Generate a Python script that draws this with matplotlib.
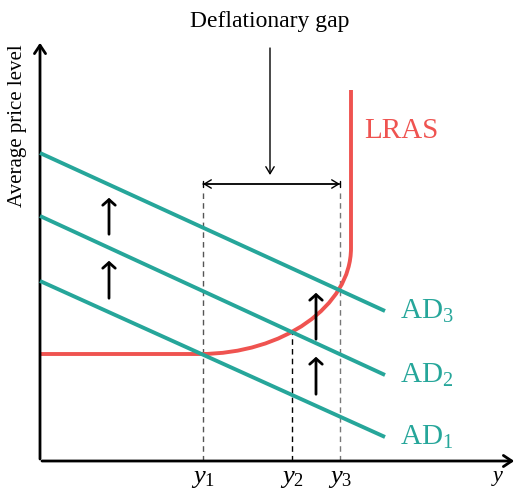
import matplotlib
matplotlib.use("Agg")
import matplotlib.pyplot as plt
from matplotlib.path import Path
from matplotlib.patches import PathPatch

plt.rcParams['font.family'] = ['Liberation Serif', 'DejaVu Serif']
plt.rcParams['mathtext.fontset'] = 'custom'
plt.rcParams['mathtext.rm'] = 'Liberation Serif'
plt.rcParams['mathtext.it'] = 'Liberation Serif:italic'

TEAL = '#26a69a'
RED = '#ef5350'

# ---- data (abstract chart units, origin at the axes corner) ----
ad_x = [0, 345]
ad1_y = [180, 24]
ad2_y = [245, 86]
ad3_y = [308, 150]
ad_labels = ['AD$_1$', 'AD$_2$', 'AD$_3$']

# LRAS: flat segment, rounded corner (cubic Bezier), vertical segment
lras_x = [0, 160, 243, 311, 311, 311]
lras_y = [107, 107, 107, 155, 213, 371]

# output levels
y_pos = [163, 252, 300]
y_labels = ['$y_1$', '$y_2$', '$y_3$']
dash_top = [272, 129, 272]
dash_col = ['#555555', 'black', '#777777']

gap_level = 277
# shift arrows (x, from, to)
arrows = [(69, 224, 266), (69, 160, 203), (276, 119, 171), (276, 64, 107)]

fig = plt.figure(figsize=(5.18, 4.94), dpi=100)
ax = fig.add_axes([0, 0, 1, 1])
ax.set_xlim(-40, 478)
ax.set_ylim(-33, 461)
ax.axis('off')

# axes with arrows
ax.annotate('', xy=(0, 421), xytext=(0, -0.8), annotation_clip=False,
            arrowprops=dict(arrowstyle='->,head_length=0.6,head_width=0.4', lw=2.0, color='black'))
ax.annotate('', xy=(477, 0), xytext=(-0.8, 0), annotation_clip=False,
            arrowprops=dict(arrowstyle='->,head_length=0.6,head_width=0.4', lw=2.0, color='black'))

# dashed lines
for xp, top, c in zip(y_pos, dash_top, dash_col):
    ax.plot([xp, xp], [0, top], ls=(0, (4, 3)), lw=1.0, color=c, zorder=1)

# AD lines
for ys, lab in zip([ad1_y, ad2_y, ad3_y], ad_labels):
    ax.plot(ad_x, ys, color=TEAL, lw=2.8, solid_capstyle='butt', zorder=3)
    ax.text(ad_x[1] + 15, ys[1], lab, color=TEAL, fontsize=21, va='center', ha='left')

# LRAS curve
codes = [Path.MOVETO, Path.LINETO, Path.CURVE4, Path.CURVE4, Path.CURVE4, Path.LINETO]
path = Path(list(zip(lras_x, lras_y)), codes)
ax.add_patch(PathPatch(path, facecolor='none', edgecolor=RED, lw=2.8, capstyle='butt', zorder=2))
ax.text(324, 330, 'LRAS', color=RED, fontsize=21, va='center', ha='left')

# shift arrows
for xa, y0, y1 in arrows:
    ax.annotate('', xy=(xa, y1), xytext=(xa, y0),
                arrowprops=dict(arrowstyle='->,head_length=0.4,head_width=0.45', lw=2.0, color='black'),
                zorder=5)

# deflationary gap bracket
ax.annotate('', xy=(y_pos[0], gap_level), xytext=(y_pos[2], gap_level),
            arrowprops=dict(arrowstyle='|-|,widthA=0.25,widthB=0.25', lw=1.0, color='black', shrinkA=0, shrinkB=0))
ax.annotate('', xy=(y_pos[0], gap_level), xytext=(y_pos[2], gap_level),
            arrowprops=dict(arrowstyle='<->,head_length=0.5,head_width=0.3', lw=1.0, color='black', shrinkA=0, shrinkB=0))
ax.annotate('', xy=(230, gap_level + 9), xytext=(230, 413),
            arrowprops=dict(arrowstyle='->,head_length=0.5,head_width=0.3', lw=1.0, color='black', shrinkA=0, shrinkB=0))
ax.text(230, 439, 'Deflationary gap', fontsize=17, ha='center', va='center')

# tick labels
for xp, lab in zip(y_pos, y_labels):
    ax.text(xp, -7, lab, fontsize=19, ha='center', va='top')
ax.text(458, -8, '$y$', fontsize=16, ha='center', va='top')

ax.text(-22, 335, 'Average price level', fontsize=15, rotation=90, ha='center', va='center')

fig.savefig('out.png', dpi=100)
